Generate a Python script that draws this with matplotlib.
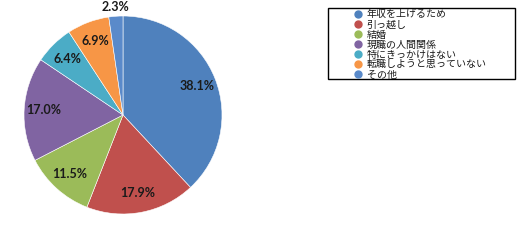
import matplotlib
matplotlib.use("Agg")
import matplotlib.pyplot as plt
from matplotlib.lines import Line2D
from matplotlib.patches import Rectangle
import numpy as np

plt.rcParams['font.family'] = ['Noto Sans CJK JP', 'DejaVu Sans']

labels = ["年収を上げるため", "引っ越し", "結婚", "現職の人間関係",
          "特にきっかけはない", "転職しようと思っていない", "その他"]
values = [38.1, 17.9, 11.5, 17.0, 6.4, 6.9, 2.3]
colors = ["#4F81BD", "#C0504D", "#9BBB59", "#8064A2",
          "#4BACC6", "#F79646", "#5A8ACA"]

W, H = 517, 240
fig = plt.figure(figsize=(W / 100, H / 100), dpi=100)

# pie centre ~ (123, 115) px, radius ~ 99 px
cx, cy, r = 123, 115, 99
ax = fig.add_axes([(cx - r) / W, (H - cy - r) / H, 2 * r / W, 2 * r / H])
wedges, texts = ax.pie(values, colors=colors, startangle=90, counterclock=False,
                       wedgeprops=dict(edgecolor="white", linewidth=0.4))
ax.set_xlim(-1, 1)
ax.set_ylim(-1, 1)
ax.set_aspect('equal')
ax.axis('off')

# percentage labels
total = sum(values)
cum = 0
for i, v in enumerate(values):
    mid = 90 - (cum + v / 2) / total * 360
    cum += v
    d = 0.8 if i < len(values) - 1 else 1.09
    x = d * np.cos(np.radians(mid))
    y = d * np.sin(np.radians(mid))
    ax.text(x, y, f"{v:.1f}%", ha='center', va='center', fontsize=9,
            fontweight='bold', color="#1a1a1a", family=['Lato', 'DejaVu Sans'])

# legend box
fig.patches.append(Rectangle((328 / W, 1 - 79 / H), (515 - 328) / W, (79 - 8) / H,
                             transform=fig.transFigure, fill=False,
                             edgecolor="black", linewidth=1.0))
handles = [Line2D([], [], marker='o', linestyle='', markersize=5,
                  markerfacecolor=c, markeredgecolor=c) for c in colors]
fig.legend(handles, labels, loc='upper left',
           bbox_to_anchor=(352 / W, 1 - 9.5 / H), frameon=False,
           fontsize=7.2, labelspacing=0.0, handletextpad=0.25,
           borderpad=0, borderaxespad=0, handlelength=1.2,
           labelcolor="#1a1a1a")

fig.savefig("out.png", dpi=100)
